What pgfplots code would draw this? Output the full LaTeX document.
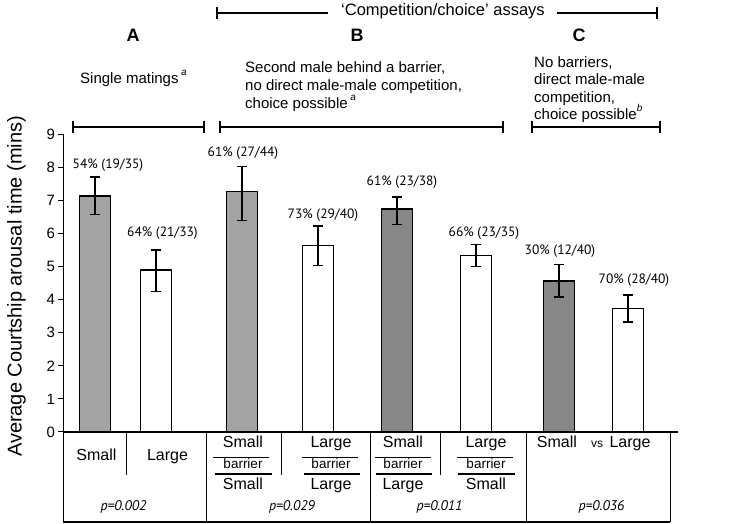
\documentclass[border=0pt]{standalone}
\usepackage{fontspec}
\setmainfont{Liberation Sans}
\newfontfamily\myr{PT Sans}
\usepackage{pgfplots}
\pgfplotsset{compat=1.18}
\definecolor{lightbar}{RGB}{163,163,163}
\definecolor{darkbar}{RGB}{135,135,135}
\newcommand{\fs}[1]{\fontsize{#1}{#1}\selectfont}
\newcommand{\sups}[1]{\raisebox{0.55em}{\fs{10}\itshape #1}}

\begin{document}
\begin{tikzpicture}
\useasboundingbox (-63.5pt,-92pt) rectangle (681.5pt,432pt);
\begin{axis}[
  at={(0pt,0pt)}, anchor=south west,
  scale only axis, width=614.5pt, height=298pt,
  xmin=63.5, xmax=678, ymin=0, ymax=9,
  axis x line*=bottom, axis y line*=left,
  axis line style={-, line width=1.3pt},
  xtick=\empty, ytick={0,1,...,9},
  tick align=outside, major tick length=5pt,
  tick style={line width=1pt, black},
  yticklabel style={font=\fs{15}},
  /pgf/number format/assume math mode=true,
  ybar, bar width=31, clip=false,
  every axis plot/.append style={draw=black, line width=1.7pt, bar shift=0pt},
  error bars/error bar style={line width=1.3pt, black},
  error bars/error mark options={rotate=90, mark size=4.7pt, line width=1.3pt, black},
]
% light grey: single small male, small/barrier/small
\addplot[fill=lightbar, error bars/.cd, y dir=both, y explicit] coordinates {
  (95,7.13) += (0,0.57) -= (0,0.57)
  (242,7.26) += (0,0.75) -= (0,0.87)
};
% dark grey: small/barrier/large, small vs large
\addplot[fill=darkbar, error bars/.cd, y dir=both, y explicit] coordinates {
  (397,6.73) += (0,0.37) -= (0,0.46)
  (559,4.55) += (0,0.50) -= (0,0.47)
};
% white bars
\addplot[fill=white, error bars/.cd, y dir=both, y explicit] coordinates {
  (156,4.89) += (0,0.61) -= (0,0.64)
  (318,5.63) += (0,0.59) -= (0,0.60)
  (476,5.33) += (0,0.33) -= (0,0.34)
  (628,3.73) += (0,0.41) -= (0,0.41)
};
\begin{scope}[every node/.style={font=\myr\fs{13.5}}]
\node at (axis cs:108,8.06) {54\% (19/35)};
\node at (axis cs:162.5,6.01) {64\% (21/33)};
\node at (axis cs:243,8.43) {61\% (27/44)};
\node at (axis cs:323,6.55) {73\% (29/40)};
\node at (axis cs:402,7.55) {61\% (23/38)};
\node at (axis cs:484,6.01) {66\% (23/35)};
\node at (axis cs:560,5.47) {30\% (12/40)};
\node at (axis cs:634,4.59) {70\% (28/40)};
\end{scope}
\end{axis}

% annotations in image pixel coordinates
\begin{scope}[x=1pt, y=-1pt, shift={(-63.5pt,432pt)},
  txt/.style={inner sep=0pt, text height=0.72em, text depth=0.2em}]
% y label
\node[txt, rotate=90, font=\fs{20}] at (19,286.5) {Average Courtship arousal time (mins)};

% top bracket
\draw[line width=1.2pt] (217,7) -- (217,19) (217,13) -- (328,13)
  (557,13) -- (657,13) (657,7) -- (657,19);
\node[txt, font=\fs{16.5}] at (443,13) {‘Competition/choice’ assays};

% panel letters
\node[txt, font=\bfseries\fs{18}] at (133,39) {A};
\node[txt, font=\bfseries\fs{18}] at (357,39) {B};
\node[txt, font=\bfseries\fs{18}] at (579,39) {C};

% descriptions
\begin{scope}[every node/.style={txt, anchor=west, font=\fs{15}}]
\node at (80,81) {Single matings\,\sups{a}};
\node at (245,70) {Second male behind a barrier,};
\node at (245,88) {no direct male-male competition,};
\node at (245,106) {choice possible\,\sups{a}};
\node at (534,65) {No barriers,};
\node at (534,82) {direct male-male};
\node at (534,100) {competition,};
\node at (534,117) {choice possible\sups{b}};
\end{scope}

% group brackets
\draw[line width=1.2pt] (73,121) -- (73,133) (73,127) -- (204,127) (204,121) -- (204,133);
\draw[line width=1.2pt] (220,121) -- (220,133) (220,127) -- (503,127) (503,121) -- (503,133);
\draw[line width=1.2pt] (532,121) -- (532,133) (532,127) -- (660,127) (660,121) -- (660,133);

% table under the axis
\draw[line width=1.4pt] (63.5,432) -- (63.5,522);
\draw[line width=2pt] (63.5,522) -- (670,522);
\draw[line width=0.9pt] (670,432) -- (670,522);
\draw[line width=0.9pt] (206.7,432) -- (206.7,522) (370,432) -- (370,522) (526.7,432) -- (526.7,522);
\draw[line width=0.9pt] (126,432) -- (126,475) (281.7,432) -- (281.7,475) (440.7,432) -- (440.7,475);

\begin{scope}[every node/.style={txt, font=\fs{16}}]
\node at (96.5,458) {Small};
\node at (167.5,458) {Large};
\node at (243,445) {Small};
\node at (243,487) {Small};
\node at (331,445) {Large};
\node at (331,487) {Large};
\node at (403,445) {Small};
\node at (403,487) {Large};
\node at (486,445) {Large};
\node at (486,487) {Small};
\node at (557,445) {Small};
\node at (630,445) {Large};
\node[font=\fs{12}] at (597,445) {vs};
\end{scope}
\begin{scope}[every node/.style={txt, font=\fs{13.5}}]
\node at (243,466) {barrier};
\node at (331,466) {barrier};
\node at (403,466) {barrier};
\node at (486,466) {barrier};
\end{scope}
\draw[line width=1.2pt] (213,457.7) -- (269,457.7) (215,474) -- (272,474);
\draw[line width=1.2pt] (302,457.7) -- (358,457.7) (304,474) -- (360,474);
\draw[line width=1.2pt] (375,457.7) -- (431,457.7) (376,474) -- (432,474);
\draw[line width=1.2pt] (457,457.7) -- (513,457.7) (458,474) -- (515,474);

\begin{scope}[every node/.style={txt, font=\myr\itshape\fs{14}}]
\node at (123.5,508) {p=0.002};
\node at (292,508) {p=0.029};
\node at (439.5,508) {p=0.011};
\node at (601.5,508) {p=0.036};
\end{scope}
\end{scope}
\end{tikzpicture}
\end{document}
